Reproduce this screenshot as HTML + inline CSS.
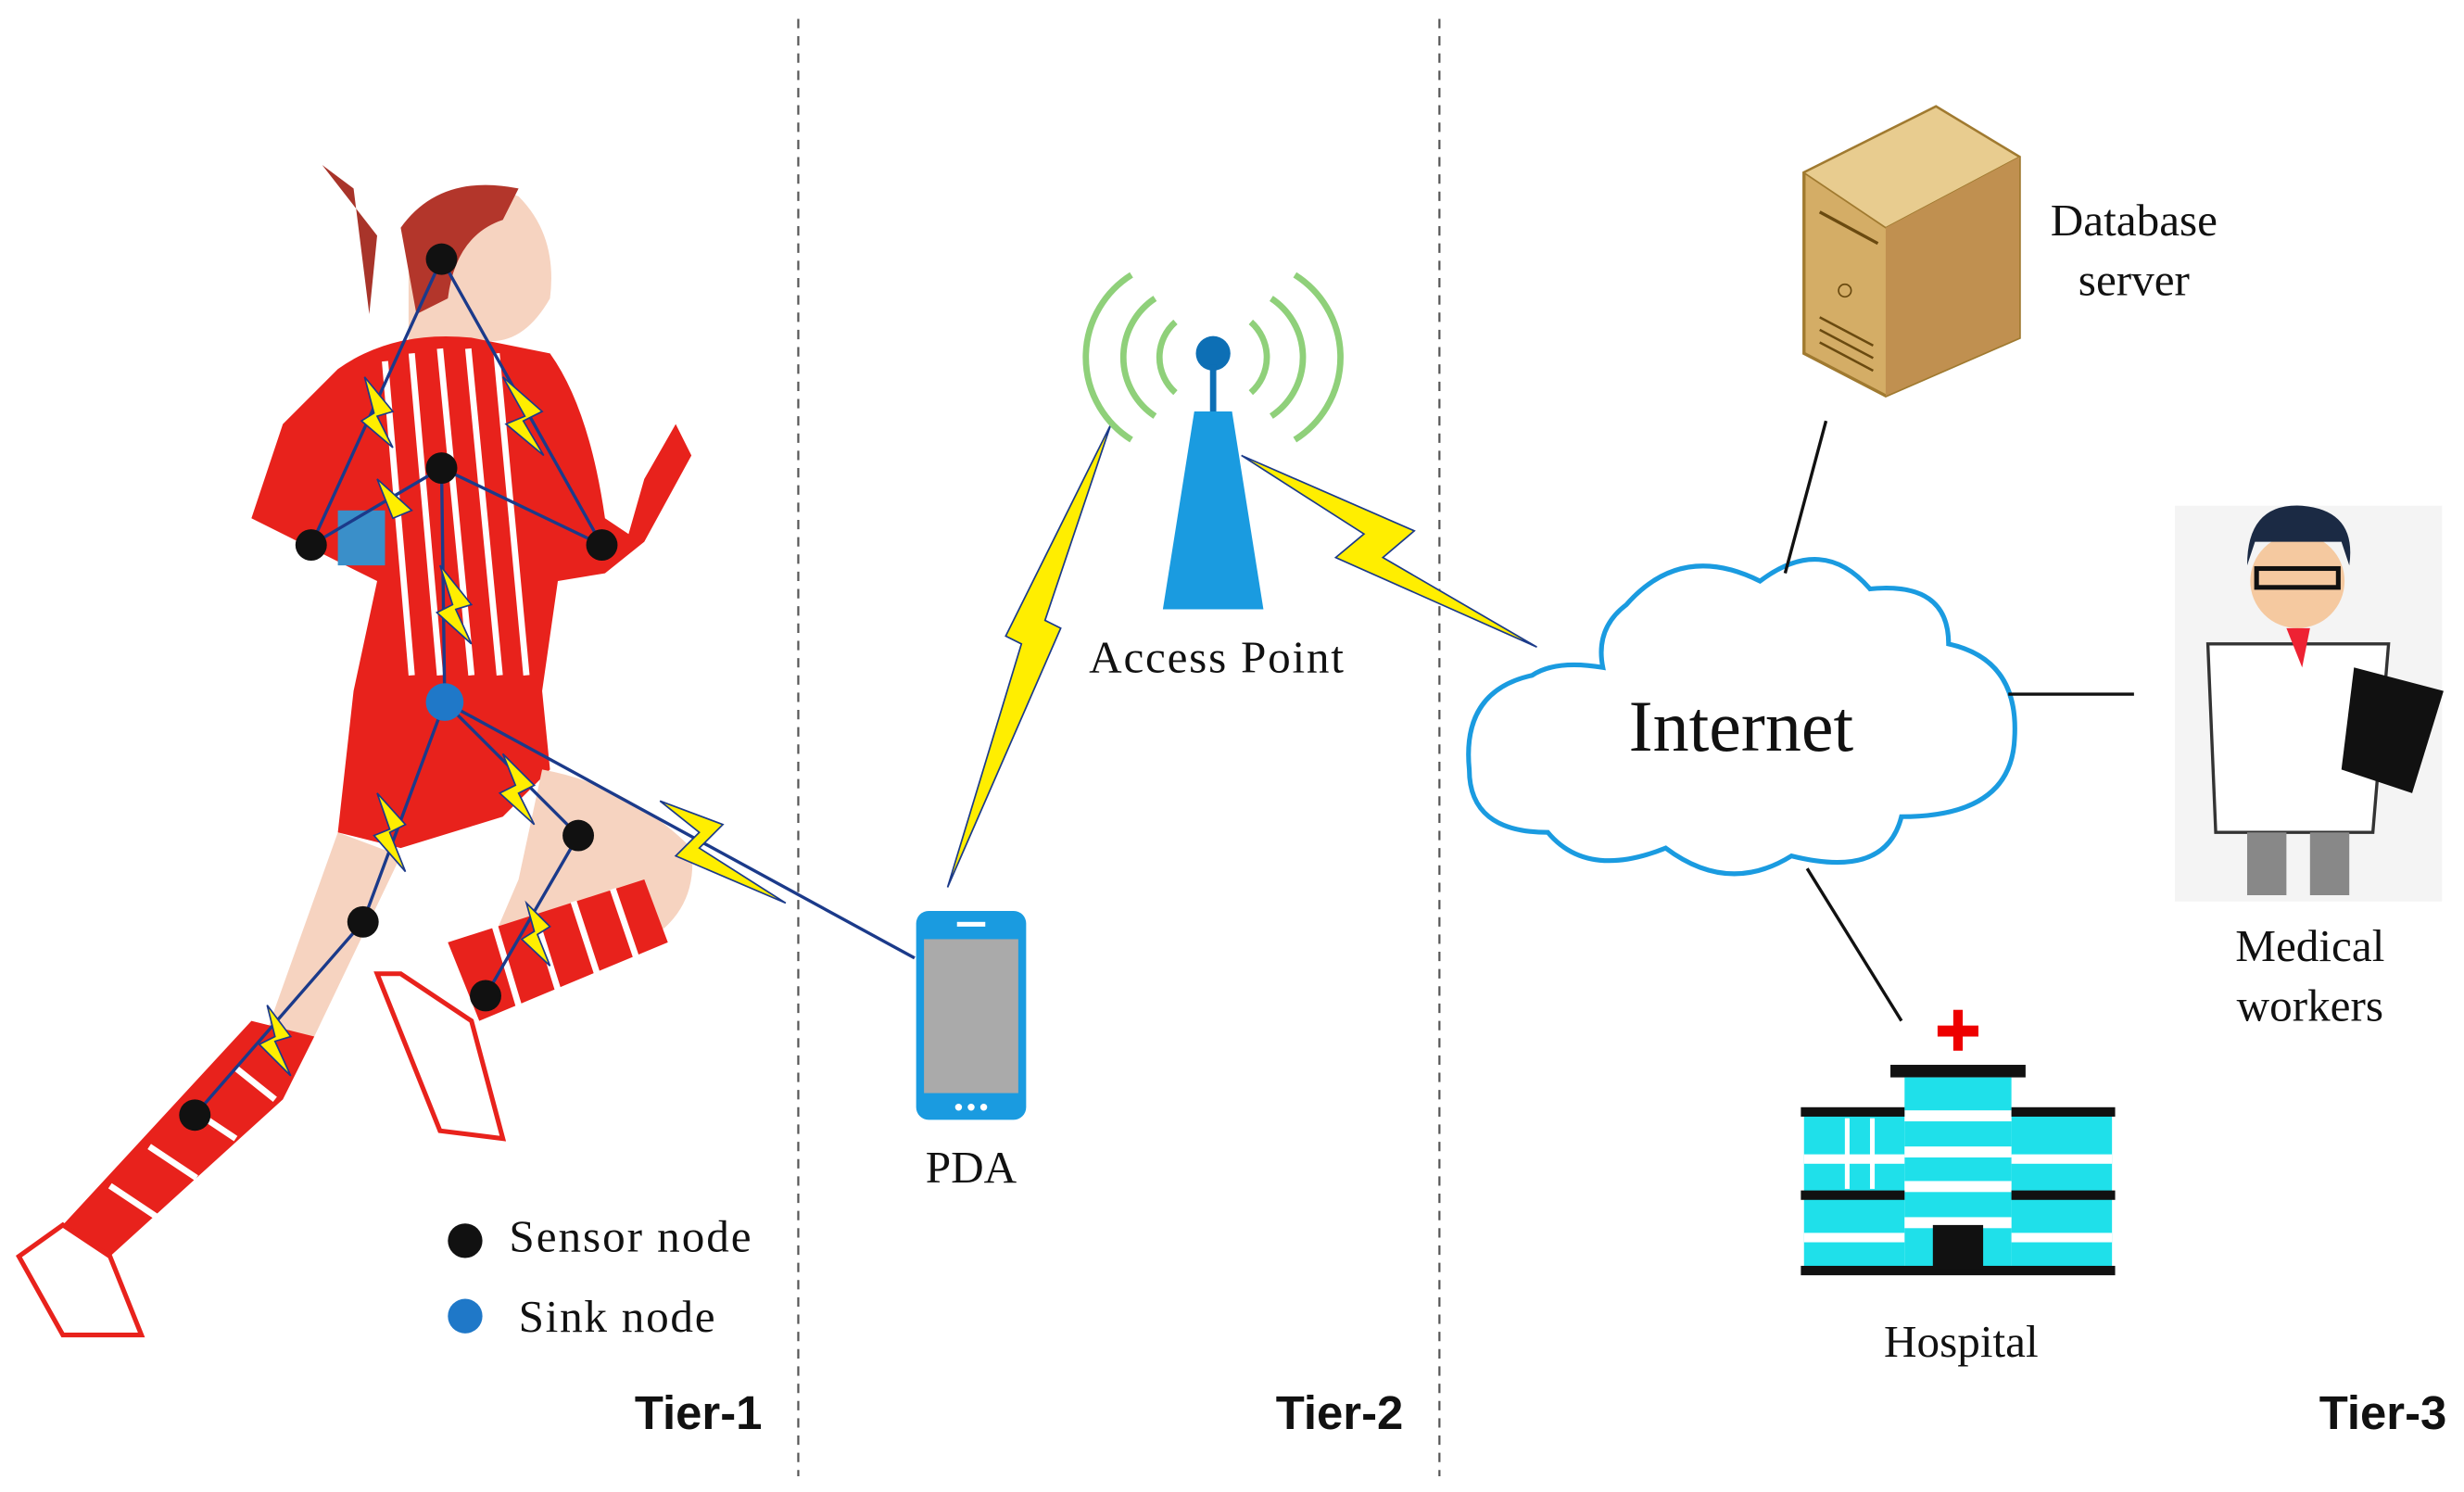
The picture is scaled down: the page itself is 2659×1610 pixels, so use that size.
<!DOCTYPE html>
<html><head><meta charset="utf-8"><style>
html,body{margin:0;padding:0;background:#fff;width:2659px;height:1610px;overflow:hidden}
svg{display:block}
text{font-family:"Liberation Serif",serif;fill:#111}
.b{font-family:"Liberation Sans",sans-serif;font-weight:bold}
</style></head><body>
<svg width="2659" height="1610" viewBox="0 0 1568 950" preserveAspectRatio="none" xmlns="http://www.w3.org/2000/svg">
<rect width="1568" height="950" fill="#fff"/>
<line x1="508" y1="12" x2="508" y2="940" stroke="#555" stroke-width="1.3" stroke-dasharray="6,5"/>
<line x1="916" y1="12" x2="916" y2="940" stroke="#555" stroke-width="1.3" stroke-dasharray="6,5"/>

<!-- runner -->
<g>
<path d="M225 120 L205 105 L240 150 L235 200 Z" fill="#a8342a"/>
<path d="M260 140 Q290 110 330 125 Q355 150 350 190 Q330 225 300 215 L285 245 L260 240 Z" fill="#f6d3c0"/>
<path d="M255 145 Q280 110 330 120 L320 140 Q290 150 285 190 L265 200 Z" fill="#b3362b"/>
<path d="M215 235 Q250 210 300 215 L350 225 Q375 260 385 330 L400 340 L410 305 L430 270 L440 290 L410 345 L385 365 L355 370 L345 440 L350 490 L320 520 L255 540 L215 530 L225 440 L240 370 L200 350 L160 330 L180 270 Z" fill="#e8221c"/>
<g stroke="#fff" stroke-width="4">
<line x1="245" y1="230" x2="262" y2="430"/><line x1="262" y1="225" x2="280" y2="430"/>
<line x1="280" y1="222" x2="300" y2="430"/><line x1="298" y1="222" x2="318" y2="430"/>
<line x1="316" y1="225" x2="335" y2="430"/>
</g>
<path d="M345 490 Q400 500 440 540 Q445 580 410 600 L330 640 L300 630 L330 560 Z" fill="#f6d3c0"/>
<path d="M285 600 L410 560 L425 600 L305 650 Z" fill="#e8221c"/>
<g stroke="#fff" stroke-width="4"><line x1="315" y1="590" x2="330" y2="640"/><line x1="340" y1="582" x2="355" y2="630"/><line x1="365" y1="574" x2="380" y2="620"/><line x1="390" y1="566" x2="405" y2="610"/></g>
<path d="M255 620 L240 620 L280 720 L320 725 L300 650 Z" fill="#fff" stroke="#e8221c" stroke-width="3"/>
<path d="M215 530 L255 545 L200 660 L165 670 Z" fill="#f6d3c0"/>
<path d="M160 650 L200 660 L180 700 L70 800 L40 780 Z" fill="#e8221c"/>
<g stroke="#fff" stroke-width="4"><line x1="150" y1="680" x2="175" y2="700"/><line x1="120" y1="705" x2="150" y2="725"/><line x1="95" y1="730" x2="125" y2="750"/><line x1="70" y1="755" x2="100" y2="775"/></g>
<path d="M40 780 L70 800 L90 850 L40 850 L12 800 Z" fill="#fff" stroke="#e8221c" stroke-width="3"/>
<rect x="215" y="325" width="30" height="35" fill="#3a8fc9"/>
</g>
<!-- body links -->
<g fill="none" stroke="#1b3a8a" stroke-width="2">
<polyline points="281,165 198,347"/><polyline points="281,165 383,347"/>
<polyline points="281,298 198,347"/><polyline points="281,298 383,347"/>
<polyline points="281,298 283,447"/><polyline points="283,447 231,587 124,710"/>
<polyline points="283,447 368,532 309,634"/><line x1="283" y1="447" x2="582" y2="610"/>
</g>
<g fill="#ffee00" stroke="#1b3a8a" stroke-width="1">
<polygon points="232,240 250,262 240,265 250,285 230,268 238,263"/>
<polygon points="320,240 345,262 333,268 346,290 322,270 334,265"/>
<polygon points="280,360 300,385 290,388 300,410 278,390 288,385"/>
<polygon points="240,505 258,525 248,530 258,555 238,532 248,528"/>
<polygon points="320,480 340,500 330,505 340,525 318,505 328,500"/>
<polygon points="170,640 185,660 175,663 185,685 165,665 175,660"/>
<polygon points="335,575 350,590 342,595 350,615 332,598 340,593"/>
<polygon points="420,510 460,525 445,540 500,575 430,545 445,530"/>
<polygon points="240,305 262,325 250,330"/>
</g>
<g fill="#111"><circle cx="281" cy="165" r="10"/><circle cx="281" cy="298" r="10"/><circle cx="198" cy="347" r="10"/><circle cx="383" cy="347" r="10"/><circle cx="368" cy="532" r="10"/><circle cx="231" cy="587" r="10"/><circle cx="309" cy="634" r="10"/><circle cx="124" cy="710" r="10"/></g>
<circle cx="283" cy="447" r="12" fill="#1f78c8"/>
<circle cx="296" cy="790" r="11" fill="#111"/><circle cx="296" cy="838" r="11" fill="#1f78c8"/>
<text x="324" y="797" font-size="29" textLength="154">Sensor node</text>
<text x="330" y="848" font-size="29" textLength="125">Sink node</text>
<text x="485" y="910" font-size="30" class="b" text-anchor="end">Tier-1</text>
<text x="893" y="910" font-size="30" class="b" text-anchor="end">Tier-2</text>
<text x="1557" y="910" font-size="30" class="b" text-anchor="end">Tier-3</text>

<!-- phone -->
<rect x="583" y="580" width="70" height="133" rx="8" fill="#1a9be0"/>
<rect x="588" y="598" width="60" height="98" fill="#aaa"/>
<rect x="609" y="587" width="18" height="3" fill="#fff"/>
<circle cx="610" cy="705" r="2.2" fill="#fff"/><circle cx="618" cy="705" r="2.2" fill="#fff"/><circle cx="626" cy="705" r="2.2" fill="#fff"/>
<text x="618" y="753" font-size="29" text-anchor="middle">PDA</text>
<!-- PDA to AP bolt -->
<polygon points="707,270 665,395 675,400 603,565 650,410 640,405" fill="#ffee00" stroke="#1b3a8a" stroke-width="1"/>
<!-- AP -->
<g fill="none" stroke="#8fd07a" stroke-width="4">
<path d="M748 205 A30 30 0 0 0 748 250"/><path d="M796 205 A30 30 0 0 1 796 250"/>
<path d="M735 190 A45 45 0 0 0 735 265"/><path d="M809 190 A45 45 0 0 1 809 265"/>
<path d="M720 175 A62 62 0 0 0 720 280"/><path d="M824 175 A62 62 0 0 1 824 280"/>
</g>
<circle cx="772" cy="225" r="11" fill="#0d6fb5"/>
<rect x="770" y="232" width="4" height="30" fill="#0d6fb5"/>
<polygon points="760,262 784,262 804,388 740,388" fill="#1a9be0"/>
<text x="774" y="428" font-size="29" text-anchor="middle" textLength="162">Access Point</text>
<polygon points="790,290 900,338 880,355 978,412 850,355 868,340" fill="#ffee00" stroke="#1b3a8a" stroke-width="1"/>
<!-- cloud -->
<path d="M1020 425 Q990 420 975 430 Q930 440 935 490 Q935 530 985 530 Q1010 560 1060 540 Q1100 570 1140 545 Q1200 560 1210 520 Q1280 520 1282 470 Q1285 420 1240 410 Q1240 370 1190 375 Q1160 340 1120 370 Q1070 345 1035 385 Q1015 400 1020 425 Z" fill="#fff" stroke="#1a9be0" stroke-width="3"/>
<text x="1108" y="478" font-size="46" text-anchor="middle">Internet</text>
<g stroke="#111" stroke-width="2"><line x1="1162" y1="268" x2="1136" y2="365"/><line x1="1278" y1="442" x2="1358" y2="442"/><line x1="1150" y1="553" x2="1210" y2="650"/></g>
<!-- server -->
<polygon points="1148,110 1232,68 1285,100 1285,215 1200,252 1148,225" fill="#d4ad66" stroke="#a07a30" stroke-width="2"/>
<polygon points="1148,110 1232,68 1285,100 1200,145" fill="#e8cc8f" stroke="#a07a30" stroke-width="1"/>
<polygon points="1200,145 1285,100 1285,215 1200,252" fill="#c09050"/>
<polyline points="1158,135 1195,155" stroke="#6a4a10" fill="none" stroke-width="2"/>
<g stroke="#6a4a10" stroke-width="1.5"><line x1="1158" y1="210" x2="1192" y2="228"/><line x1="1158" y1="218" x2="1192" y2="236"/><line x1="1158" y1="202" x2="1192" y2="220"/></g>
<circle cx="1174" cy="185" r="4" fill="none" stroke="#6a4a10"/>
<text x="1358" y="150" font-size="29" text-anchor="middle">Database</text>
<text x="1358" y="188" font-size="29" text-anchor="middle">server</text>
<!-- doctor -->
<rect x="1384" y="322" width="170" height="252" fill="#f4f4f4"/>
<circle cx="1462" cy="370" r="30" fill="#f5c9a0"/>
<path d="M1430 360 Q1430 320 1465 322 Q1500 325 1495 360 L1490 345 Q1460 345 1435 345 Z" fill="#1b2a44"/>
<rect x="1436" y="362" width="52" height="12" fill="none" stroke="#111" stroke-width="3"/>
<path d="M1405 410 L1520 410 L1510 530 L1410 530 Z" fill="#fff" stroke="#333" stroke-width="2"/>
<polygon points="1455,400 1470,400 1465,425" fill="#e23"/>
<polygon points="1498,425 1555,440 1535,505 1490,490" fill="#111"/>
<rect x="1430" y="530" width="25" height="40" fill="#888"/><rect x="1470" y="530" width="25" height="40" fill="#888"/>
<text x="1470" y="612" font-size="29" text-anchor="middle">Medical</text>
<text x="1470" y="650" font-size="29" text-anchor="middle">workers</text>
<!-- hospital -->
<rect x="1233" y="653" width="26" height="7" fill="#e00"/><rect x="1243" y="643" width="6" height="26" fill="#e00"/>
<rect x="1203" y="678" width="86" height="8" fill="#111"/>
<rect x="1212" y="686" width="68" height="124" fill="#1fe0ea"/>
<rect x="1148" y="708" width="64" height="102" fill="#1fe0ea"/>
<rect x="1280" y="708" width="64" height="102" fill="#1fe0ea"/>
<g fill="#fff"><rect x="1212" y="707" width="68" height="7"/><rect x="1212" y="730" width="68" height="7"/><rect x="1212" y="752" width="68" height="7"/><rect x="1212" y="775" width="68" height="7"/>
<rect x="1148" y="735" width="64" height="6"/><rect x="1280" y="735" width="64" height="6"/><rect x="1148" y="785" width="64" height="6"/><rect x="1280" y="785" width="64" height="6"/>
<rect x="1174" y="712" width="3" height="45"/><rect x="1190" y="712" width="3" height="45"/></g>
<rect x="1146" y="705" width="66" height="6" fill="#111"/><rect x="1280" y="705" width="66" height="6" fill="#111"/>
<rect x="1146" y="758" width="66" height="6" fill="#111"/><rect x="1280" y="758" width="66" height="6" fill="#111"/>
<rect x="1146" y="806" width="200" height="6" fill="#111"/>
<rect x="1230" y="780" width="32" height="28" fill="#111"/>
<text x="1248" y="864" font-size="29" text-anchor="middle">Hospital</text>
</svg>
</body></html>
